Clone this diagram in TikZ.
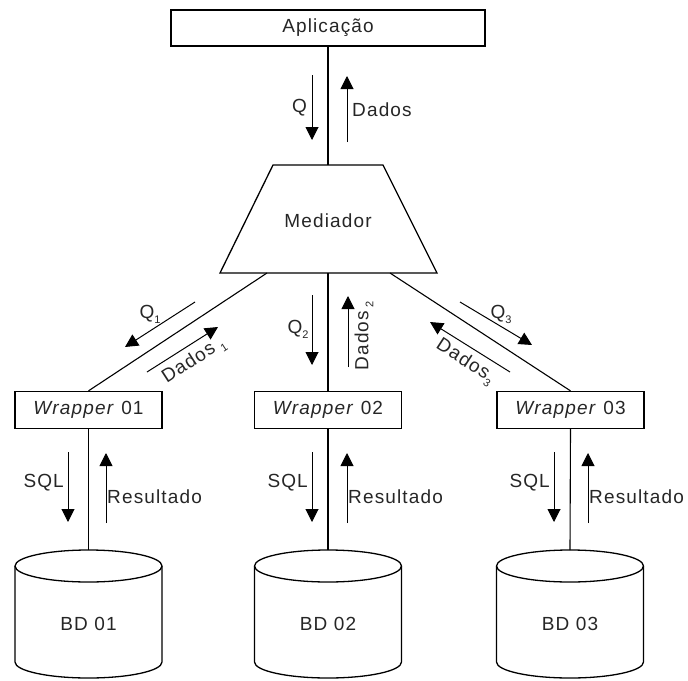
\documentclass[tikz,border=0pt]{standalone}
\usepackage{fontspec}
\setmainfont[LetterSpace=6]{Liberation Sans}
\usetikzlibrary{arrows.meta}
\newcommand{\subtxt}[1]{\raisebox{-5pt}{\fontsize{11}{12}\selectfont #1}}
\begin{document}
\begin{tikzpicture}[x=1pt,y=-1pt,
  every node/.style={font=\fontsize{19}{22}\selectfont, text=black!85},
  box/.style={draw, line width=1.3pt, minimum width=147pt, minimum height=37pt, inner sep=0pt},
  link/.style={line width=1.1pt},
  flow/.style={line width=1pt, -{Triangle[length=13pt,width=13pt]}},
  lbl/.style={inner sep=0pt}
]
\useasboundingbox (0,0) rectangle (688,680);

% application box
\node[box, minimum width=314pt, minimum height=36pt] (app) at (328,28) {Aplicação};

% mediator trapezoid
\coordinate (mtl) at (273,165);
\coordinate (mtr) at (383,165);
\coordinate (mbl) at (220,273);
\coordinate (mbr) at (437,273);
\coordinate (mtop) at (328,165);
\coordinate (mbot) at (328,273);
\coordinate (mleft) at (267,273);
\coordinate (mright) at (390,273);
\draw[line width=1.3pt] (mtl) -- (mtr) -- (mbr) -- (mbl) -- cycle;
\node (med) at (328,221) {Mediador};

\draw[link] (app.south) -- (mtop);
\draw[flow] (312,75) -- (312,140);
\draw[flow] (347,142) -- (347,76);
\node[lbl, anchor=east] (q) at (307,108) {Q};
\node[lbl, anchor=west] (dados) at (352,110) {Dados};

% wrappers
\node[box] (w1) at (88.5,410) {\textit{Wrapper} 01};
\node[box] (w2) at (328,410) {\textit{Wrapper} 02};
\node[box] (w3) at (570.5,410) {\textit{Wrapper} 03};

\draw[link] (mleft) -- (w1.north);
\draw[link] (mbot) -- (w2.north);
\draw[link] (mright) -- (w3.north);

% mediator <-> wrapper 01
\draw[flow] (195,302) -- (125,347);
\draw[flow] (147,372) -- (218,327);
\node[lbl] (q1) at (150,314) {Q\subtxt{1}};
\node[lbl, rotate=33] (d1) at (194,361) {Dados\hspace{5pt}\subtxt{1}};

% mediator <-> wrapper 02
\draw[flow] (312,295) -- (312,365);
\draw[flow] (348,367) -- (348,296);
\node[lbl] (q2) at (298,329) {Q\subtxt{2}};
\node[lbl, rotate=90] (d2) at (364,336) {Dados\hspace{3pt}\subtxt{2}};

% mediator <-> wrapper 03
\draw[flow] (460,302) -- (532,345);
\draw[flow] (510,372) -- (430,322);
\node[lbl] (q3) at (501,314) {Q\subtxt{3}};
\node[lbl, rotate=-33] (d3) at (465,362) {Dados\subtxt{3}};

% databases
\foreach \n/\cx/\sx/\rx in {1/88.5/68/106, 2/328/312/347, 3/570/554/588}{
  \coordinate (bd\n top) at (\cx,550);
  \draw[line width=1.3pt] (\cx,566) ellipse [x radius=73.5pt, y radius=16pt];
  \draw[line width=1.3pt] (\cx-73.5,566) -- (\cx-73.5,662)
      arc[start angle=180, end angle=360, x radius=73.5pt, y radius=16pt]
      -- (\cx+73.5,566);
  \node (bd\n) at (\cx,624) {BD 0\n};
  \draw[link] (w\n.south) -- (bd\n top);
  \draw[flow] (\sx,452) -- (\sx,522);
  \draw[flow] (\rx,523) -- (\rx,453);
  \node[lbl, anchor=east] (sql\n) at (\sx-4,483) {SQL};
  \node[lbl, anchor=west] (res\n) at (\rx+1,497) {Resultado};
}
\end{tikzpicture}
\end{document}
